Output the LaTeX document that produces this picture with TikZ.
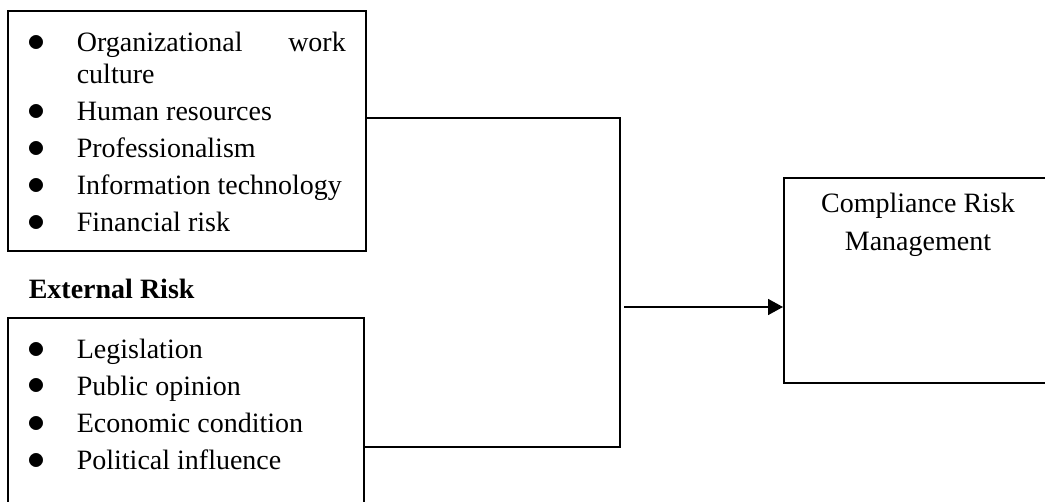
\documentclass[tikz,border=0pt]{standalone}
\usepackage{fontspec}
\setmainfont{Liberation Serif}
\usepackage{tikz}
\usetikzlibrary{arrows.meta}

\tolerance=10000
\newcommand{\riskitem}[1]{\hangindent=28pt\hangafter=1\noindent\makebox[28pt][l]{\hspace{3.5pt}\scalebox{1.25}{$\bullet$}}#1\par}

\begin{document}
\begin{tikzpicture}[x=0.5pt, y=-0.5pt, line width=0.8pt,
  riskbox/.style={draw, rectangle, inner sep=0pt, anchor=north west},
  risklist/.style={inner sep=0pt, anchor=base west, text width=162.5pt, align=justify,
    font=\fontsize{14}{16}\selectfont\setlength{\parskip}{2.5pt}},
  every node/.append style={font=\fontsize{14}{19}\selectfont}]
\clip (0,0) rectangle (1045,502);
\node[riskbox, minimum width=179pt, minimum height=120pt] (internal) at (7,10) {};
\node[risklist] (intlist) at (20,52) {\riskitem{Organizational work culture}
\riskitem{Human resources}
\riskitem{Professionalism}
\riskitem{Information technology}
\riskitem{Financial risk}};
\node[anchor=base west, inner sep=0pt, font=\fontsize{14}{16}\selectfont\bfseries] (extlabel) at (28,299) {External Risk};
\node[riskbox, minimum width=178pt, minimum height=97pt] (external) at (7,317) {};
\node[risklist] (extlist) at (20,358) {\riskitem{Legislation}
\riskitem{Public opinion}
\riskitem{Economic condition}
\riskitem{Political influence}};
\node[riskbox, minimum width=135pt, minimum height=102.5pt] (crm) at (783,177) {};
\node[anchor=base, inner sep=0pt, align=center] (crmtext) at (918,251) {Compliance Risk\\Management};
\coordinate (jtop) at (620,118);
\coordinate (jbot) at (620,447);
\coordinate (jmid) at (624,307);
\draw (internal.north east |- jtop) -- (jtop) -- (jbot) -- (external.north east |- jbot);
\draw[-{Triangle[length=7.5pt, width=8pt]}] (jmid) -- (crm.west |- jmid);
\end{tikzpicture}
\end{document}
